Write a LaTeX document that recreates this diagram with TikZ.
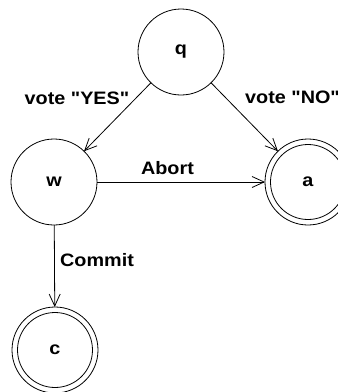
\documentclass[tikz,border=0pt]{standalone}
\usepackage{graphicx}
\usepackage{fontspec}
\setmainfont{Liberation Sans}[Ligatures=TeXOff]
\usetikzlibrary{arrows.meta}
\newcommand{\wtxt}[1]{\scalebox{1.1}[1]{#1}}
\tikzset{
  lbl/.style={font=\fontsize{18}{20}\selectfont\bfseries, inner sep=0pt},
  state/.style={draw, circle, line width=0.8pt, minimum size=86pt, inner sep=0pt, outer sep=0pt, lbl},
  conn/.style={line width=0.8pt, -{Straight Barb[length=12pt,width=11pt,line width=0.8pt]}},
}
\begin{document}
\begin{tikzpicture}[x=1pt,y=-1pt]
\useasboundingbox (0,0) rectangle (338,392);
\node[state] (q) at (181,52) {\wtxt{q}};
\node[state] (w) at (54,182) {\wtxt{w}};
\node[state] (a) at (308,182) {\wtxt{a}};
\node[state] (c) at (55,350) {\wtxt{c}};
\draw[line width=0.8pt] (a.center) circle (37.5);
\draw[line width=0.8pt] (c.center) circle (37.5);
\draw[conn] (q) -- (w);
\draw[conn] (q) -- (a);
\draw[conn] (w) -- (a);
\draw[conn] (w) -- (c);
\node[lbl, anchor=base] (lyes) at (77,104) {\wtxt{vote "YES"}};
\node[lbl, anchor=base west] (lno) at (245,103) {\wtxt{vote "NO"}};
\node[lbl, anchor=base] (labort) at (167.5,174) {\wtxt{Abort}};
\node[lbl, anchor=base west] (lcommit) at (60,266) {\wtxt{Commit}};
\end{tikzpicture}
\end{document}
